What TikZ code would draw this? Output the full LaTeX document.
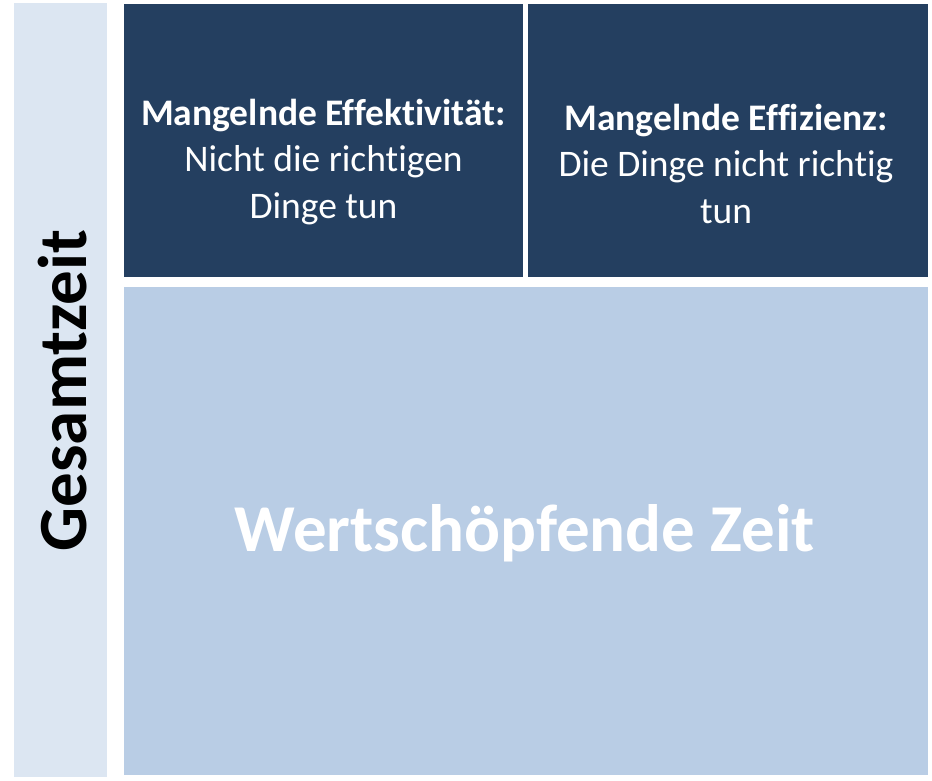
\documentclass[tikz,border=0pt]{standalone}
\usepackage{fontspec}
\setmainfont{Carlito}[Ligatures=NoCommon]
\definecolor{navy}{HTML}{243F60}
\definecolor{midblue}{HTML}{B9CDE5}
\definecolor{paleblue}{HTML}{DCE6F2}
\tikzset{
  box/.style={draw=none, inner sep=0pt, outer sep=0pt},
  toptext/.style={text=white, align=center, font=\fontsize{37.5}{46.5}\selectfont},
}
\begin{document}
\begin{tikzpicture}[x=1pt,y=-1pt]
\useasboundingbox (0,0) rectangle (932,780);
% left bar
\fill[paleblue] (14,3) rectangle (107,777);
\node[box, rotate=90, font=\bfseries\fontsize{69}{72}\selectfont] (gesamt) at (63,390.5) {Gesamtzeit};
% top boxes
\fill[navy] (124,4) rectangle (523,277);
\fill[navy] (528,4) rectangle (928,277);
\coordinate (tl) at (323.5,162);
\coordinate (tr) at (726,163.5);
\node[box, toptext] (effekt) at (tl) {\textbf{Mangelnde Effektivität:}\\Nicht die richtigen\\Dinge tun};
\node[box, toptext] (effiz) at (tr) {\textbf{Mangelnde Effizienz:}\\Die Dinge nicht richtig\\tun};
% bottom box
\fill[midblue] (124,287) rectangle (928,775);
\node[box, text=white, font=\bfseries\fontsize{67}{72}\selectfont] (wert) at (525,533) {Wertschöpfende Zeit};
\end{tikzpicture}
\end{document}
